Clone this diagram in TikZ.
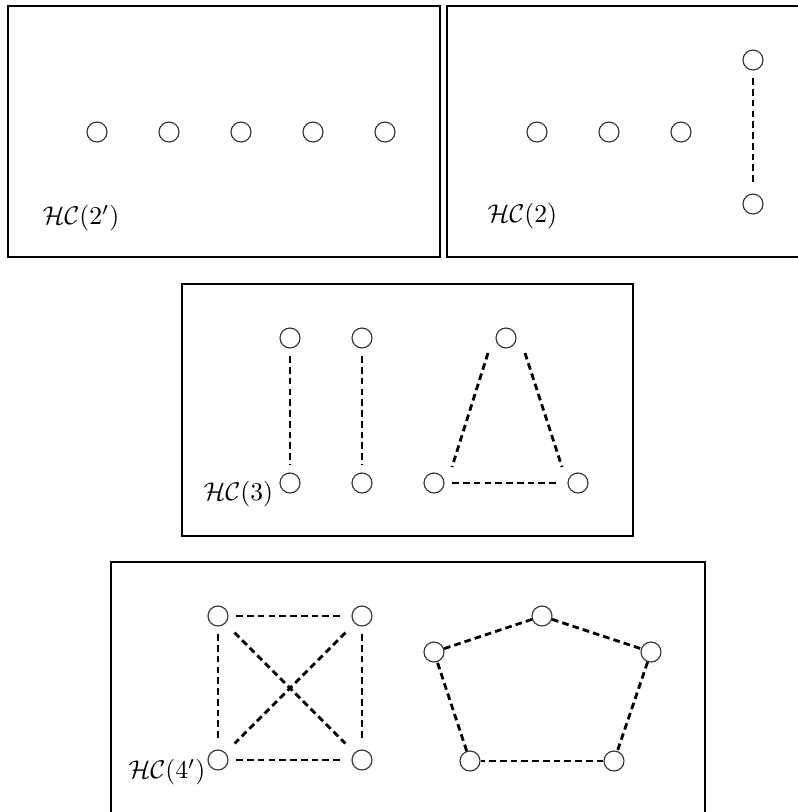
\documentclass[tikz,border=0pt]{standalone}
\usepackage{tikz}
\usetikzlibrary{positioning,calc}

\begin{document}
\begin{tikzpicture}[x=0.39pt,y=-0.39pt,
                  v/.style={draw=black!80,circle,line width=0.45pt,minimum size=7.8pt,inner sep=0pt},
                  e/.style={line width=1.1pt,dash pattern=on 2.6pt off 1.6pt,shorten >=3pt,shorten <=3pt},
                  box/.style={draw,line width=1.1pt},
                  lbl/.style={anchor=west,inner sep=0pt}
                ]
                \clip (0,0) rectangle (798,812);
                % frames
                \draw[box] (8,6) rectangle (440,257);
                \draw[box] (447,6) rectangle (812,257);
                \draw[box] (182,284) rectangle (633,536);
                \draw[box] (111,562) rectangle (705,830);

                % HC(2')
                \node[v] (a1) at (97,132) {};
                \node[v] (a2) at (169,132) {};
                \node[v] (a3) at (241,132) {};
                \node[v] (a4) at (313,132) {};
                \node[v] (a5) at (385,132) {};
                \node[lbl] (la) at (42,218) {$\mathcal{HC}(2')$};

                % HC(2)
                \node[v] (b1) at (537,132) {};
                \node[v] (b2) at (609,132) {};
                \node[v] (b3) at (681,132) {};
                \node[v] (b4) at (753,60) {};
                \node[v] (b5) at (753,204) {};
                \node[lbl] (lb) at (487,216) {$\mathcal{HC}(2)$};
                \draw[e] (b4) -- (b5);

                % HC(3)
                \node[v] (c1) at (290,338) {};
                \node[v] (c2) at (290,483) {};
                \node[v] (c3) at (362,338) {};
                \node[v] (c4) at (362,483) {};
                \node[v] (c5) at (506,338) {};
                \node[v] (c6) at (434,483) {};
                \node[v] (c7) at (578,483) {};
                \node[lbl] (lc) at (203,494) {$\mathcal{HC}(3)$};
                \draw[e] (c1) -- (c2);
                \draw[e] (c3) -- (c4);
                \draw[e,shorten >=0pt,shorten <=0pt] ($(c5)+(-18,15)$) -- ($(c6)+(18,-16)$);
                \draw[e,shorten >=0pt,shorten <=0pt] ($(c5)+(19,15)$) -- ($(c7)+(-16,-16)$);
                \draw[e] (c6) -- (c7);

                % HC(4')
                \node[v] (d1) at (218,616) {};
                \node[v] (d2) at (362,616) {};
                \node[v] (d3) at (218,760) {};
                \node[v] (d4) at (362,760) {};
                \node[lbl] (ld) at (128,772) {$\mathcal{HC}(4')$};
                \draw[e] (d1) -- (d2);
                \draw[e] (d1) -- (d3);
                \draw[e] (d2) -- (d4);
                \draw[e] (d3) -- (d4);
                \draw[e,shorten >=5pt,shorten <=5pt] (d1) -- (d4);
                \draw[e,shorten >=5pt,shorten <=5pt] (d2) -- (d3);

                \node[v] (p1) at (542,616) {};
                \node[v] (p2) at (651,652) {};
                \node[v] (p3) at (614,761) {};
                \node[v] (p4) at (470,761) {};
                \node[v] (p5) at (434,652) {};
                \draw[e,shorten >=0pt,shorten <=0pt] (p1) -- (p2);
                \draw[e,shorten >=0pt,shorten <=0pt] (p2) -- (p3);
                \draw[e,shorten >=0pt,shorten <=0pt] (p3) -- (p4);
                \draw[e,shorten >=0pt,shorten <=0pt] (p4) -- (p5);
                \draw[e,shorten >=0pt,shorten <=0pt] (p5) -- (p1);
                \end{tikzpicture}
\end{document}
